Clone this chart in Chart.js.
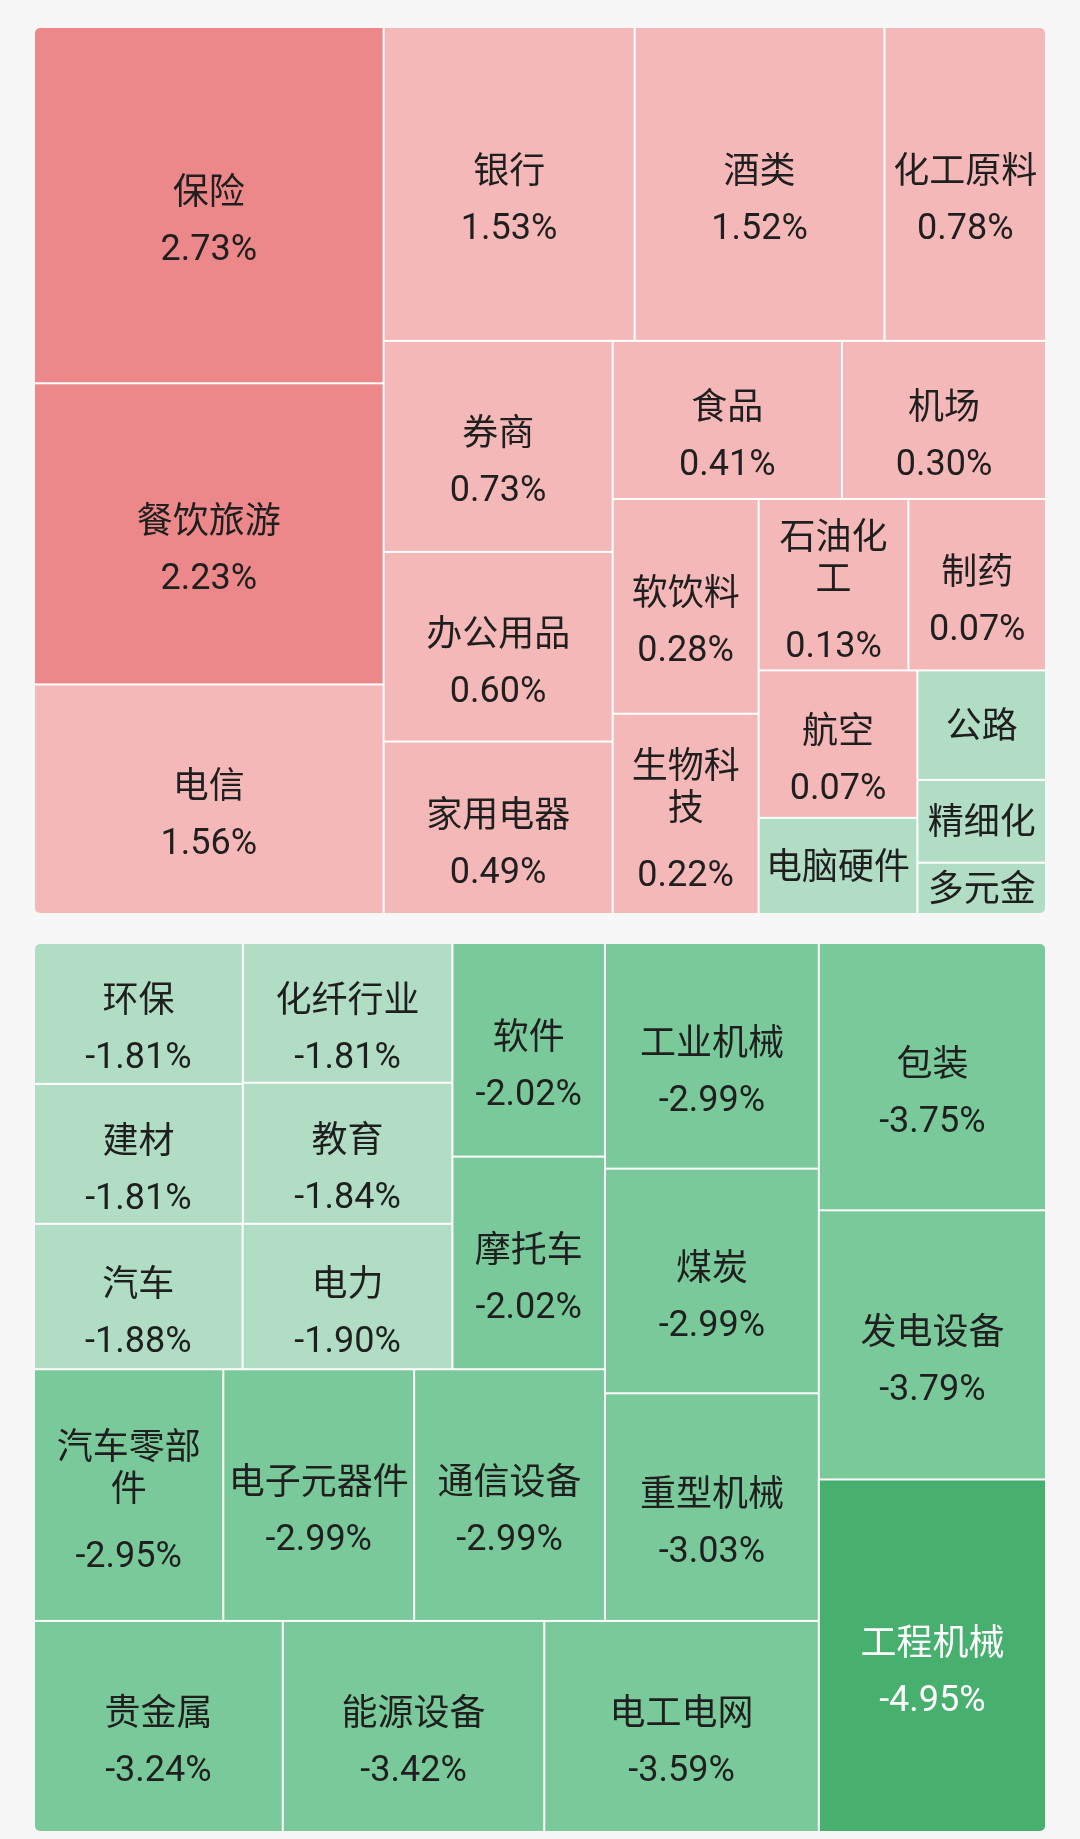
<!DOCTYPE html>
<html lang="zh-CN">
<head>
<meta charset="utf-8">
<title>行业涨跌幅</title>
<script src="https://cdn.jsdelivr.net/npm/chart.js@4.4.1/dist/chart.umd.min.js"></script>
<style>
  html, body { margin: 0; padding: 0; background: #f7f7f7; }
  body { width: 1080px; height: 1839px; position: relative; overflow: hidden; }
  .panel { position: absolute; left: 35px; width: 1010px; }
  #upBox { top: 28px; height: 885px; }
  #downBox { top: 944px; height: 887px; }
</style>
</head>
<body>
<div class="panel" id="upBox"><canvas id="upChart"></canvas></div>
<div class="panel" id="downBox"><canvas id="downChart"></canvas></div>
<script>
// 上方板块：名称、涨跌幅、面积权重
const upNames = ["保险", "餐饮旅游", "电信", "银行", "酒类", "化工原料", "券商", "办公用品", "家用电器", "食品",
  "机场", "软饮料", "生物科技", "石油化工", "制药", "航空", "电脑硬件", "公路", "精细化工", "多元金融"];
const upChanges = [2.73, 2.23, 1.56, 1.53, 1.52, 0.78, 0.73, 0.60, 0.49, 0.41,
  0.30, 0.28, 0.22, 0.13, 0.07, 0.07, -0.15, -0.18, -0.27, -0.38];
const upSizes = [3.28, 2.78, 2.11, 2.08, 2.07, 1.33, 1.28, 1.15, 1.04, 0.96,
  0.85, 0.83, 0.77, 0.68, 0.62, 0.62, 0.40, 0.37, 0.28, 0.17];
const upStrips = [3, 3, 3, 2, 2, 2, 2, 1, 1, 1]; // 每一条带里放几个格子

// 下方板块
const downNames = ["工程机械", "发电设备", "包装", "电工电网", "能源设备", "贵金属", "重型机械", "煤炭", "工业机械", "通信设备",
  "电子元器件", "汽车零部件", "摩托车", "软件", "电力", "汽车", "教育", "化纤行业", "建材", "环保"];
const downChanges = [-4.95, -3.79, -3.75, -3.59, -3.42, -3.24, -3.03, -2.99, -2.99, -2.99,
  -2.99, -2.95, -2.02, -2.02, -1.90, -1.88, -1.84, -1.81, -1.81, -1.81];
const downSizes = [4.95, 3.79, 3.75, 3.59, 3.42, 3.24, 3.03, 2.99, 2.99, 2.99,
  2.99, 2.95, 2.02, 2.02, 1.90, 1.88, 1.84, 1.81, 1.81, 1.81];
const downStrips = [3, 3, 3, 3, 2, 2, 2, 1, 1];

// 颜色分档（大于 min 即取该档）
const colorSteps = [
  { min: 2, fill: "#ED888A", text: "#1f1f1f" },
  { min: 0, fill: "#F5B8B9", text: "#1f1f1f" },
  { min: -2, fill: "#B1DDC5", text: "#1f1f1f" },
  { min: -4, fill: "#79C99A", text: "#1f1f1f" },
  { min: -Infinity, fill: "#48B06E", text: "#ffffff" }
];

const FONT = '36px Roboto, "Noto Sans CJK SC", sans-serif';

function pickColor(v) {
  return colorSteps.find(s => v > s.min);
}

// 按条带切分：每条沿剩余区域的短边排列
function stripLayout(sizes, strips, w, h) {
  const total = sizes.reduce((a, b) => a + b, 0);
  const k = (w * h) / total;
  let x = 0, y = 0, rw = w, rh = h, i = 0;
  const cells = [];
  strips.forEach(count => {
    const group = sizes.slice(i, i + count);
    const sum = group.reduce((a, b) => a + b, 0);
    if (rw >= rh) {
      const cw = sum * k / rh;
      let cy = y;
      group.forEach((s, j) => {
        const ch = rh * s / sum;
        cells.push({ idx: i + j, x0: x, x1: x + cw, y0: cy, y1: cy + ch });
        cy += ch;
      });
      x += cw; rw -= cw;
    } else {
      const ch = sum * k / rw;
      let cx = x;
      group.forEach((s, j) => {
        const cw = rw * s / sum;
        cells.push({ idx: i + j, x0: cx, x1: cx + cw, y0: y, y1: y + ch });
        cx += cw;
      });
      y += ch; rh -= ch;
    }
    i += count;
  });
  return cells;
}

function drawLabel(ctx, name, valueText, left, top, right, bottom, color) {
  const w = right - left, h = bottom - top;
  const cx = (left + right) / 2, cy = (top + bottom) / 2;
  const base = 13;
  const avail = w - 8.2;
  ctx.font = FONT;
  ctx.fillStyle = color;
  ctx.textAlign = "center";
  ctx.textBaseline = "alphabetic";

  const lines = [];
  let cur = "";
  for (const ch of name) {
    if (cur && ctx.measureText(cur + ch).width > avail) {
      lines.push(cur);
      cur = ch;
    } else {
      cur += ch;
    }
  }
  lines.push(cur);

  if (h >= (lines.length + 1) * 43 + 30) {
    const multi = lines.length > 1;
    const gap = multi ? 66 : 56;
    const span = 42 * (lines.length - 1) + gap;
    const first = cy - span / 2 + (multi ? 5 : 14);
    lines.forEach((ln, k) => ctx.fillText(ln, cx, first + k * 42 + base));
    ctx.fillText(valueText, cx, first + 42 * (lines.length - 1) + gap + base);
  } else {
    let t = name;
    while (t.length > 1 && ctx.measureText(t).width > avail) t = t.slice(0, -1);
    ctx.fillText(t, cx, cy + base);
  }
}

function treemapPlugin(names, changes, sizes, strips) {
  return {
    id: "treemapCells",
    beforeDatasetsDraw(chart) {
      const { ctx, chartArea: area } = chart;
      const xs = chart.scales.x, ys = chart.scales.y;
      const aw = area.right - area.left, ah = area.bottom - area.top;
      const aspect = aw / ah;
      const cells = stripLayout(sizes, strips, aspect, 1);

      ctx.save();
      ctx.beginPath();
      ctx.roundRect(area.left, area.top, aw, ah, 5);
      ctx.clip();
      ctx.fillStyle = "#ffffff";
      ctx.fillRect(area.left, area.top, aw, ah);

      cells.forEach(c => {
        const px0 = xs.getPixelForValue(c.x0 / aspect), px1 = xs.getPixelForValue(c.x1 / aspect);
        const py0 = ys.getPixelForValue(c.y0), py1 = ys.getPixelForValue(c.y1);
        let left = Math.min(px0, px1), right = Math.max(px0, px1);
        let top = Math.min(py0, py1), bottom = Math.max(py0, py1);
        // 内部边留白线
        if (left > area.left + 0.5) left += 1;
        if (right < area.right - 0.5) right -= 1;
        if (top > area.top + 0.5) top += 1;
        if (bottom < area.bottom - 0.5) bottom -= 1;

        const v = changes[c.idx];
        const col = pickColor(v);
        ctx.fillStyle = col.fill;
        ctx.fillRect(left, top, right - left, bottom - top);
        drawLabel(ctx, names[c.idx], v.toFixed(2) + "%", left, top, right, bottom, col.text);
      });
      ctx.restore();
    }
  };
}

function makeChart(canvasId, names, changes, sizes, strips, reverseX, reverseY) {
  return new Chart(document.getElementById(canvasId), {
    type: "scatter",
    data: { datasets: [{ label: "板块", data: [], pointRadius: 0 }] },
    options: {
      responsive: true,
      maintainAspectRatio: false,
      animation: false,
      events: [],
      layout: { padding: 0 },
      plugins: {
        legend: { display: false },
        tooltip: { enabled: false }
      },
      scales: {
        x: { type: "linear", min: 0, max: 1, reverse: reverseX, display: false },
        y: { type: "linear", min: 0, max: 1, reverse: reverseY, display: false }
      }
    },
    plugins: [treemapPlugin(names, changes, sizes, strips)]
  });
}

makeChart("upChart", upNames, upChanges, upSizes, upStrips, false, true);
makeChart("downChart", downNames, downChanges, downSizes, downStrips, true, false);
</script>
</body>
</html>
